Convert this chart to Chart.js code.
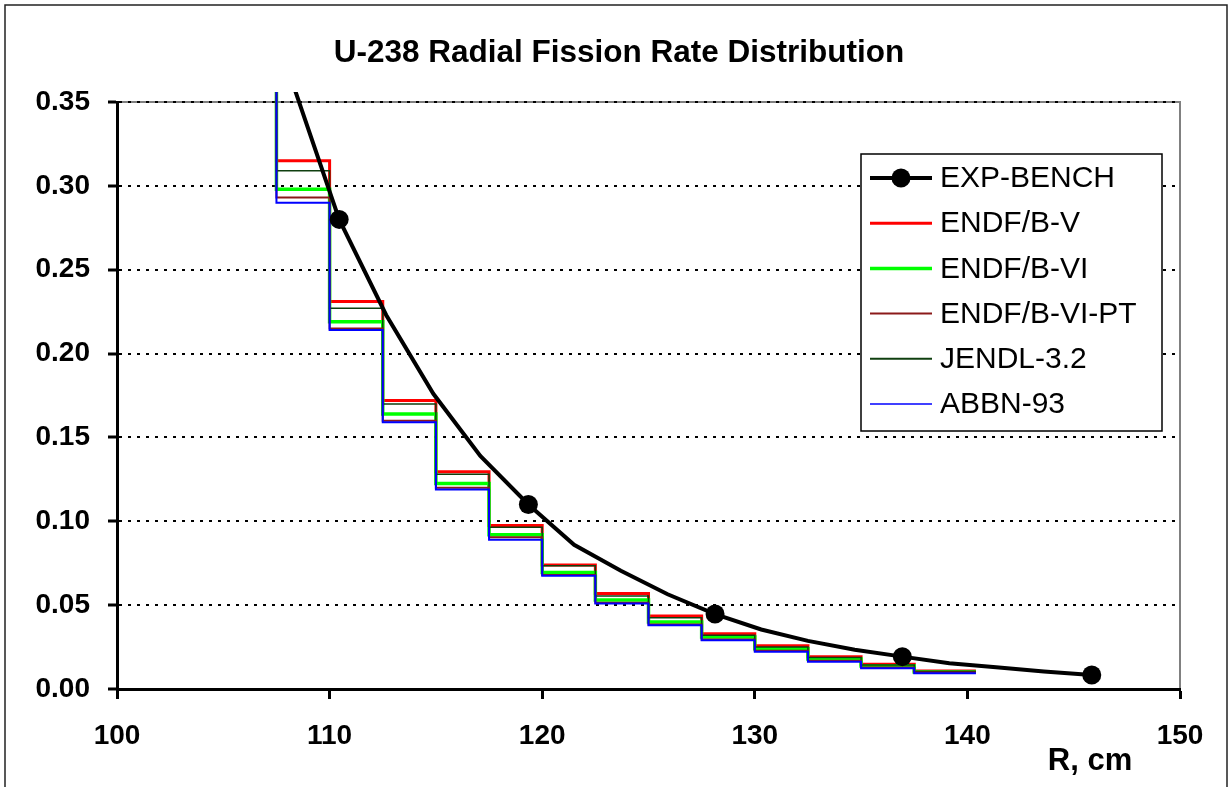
<!DOCTYPE html>
<html>
<head>
<meta charset="utf-8">
<script src="https://cdn.jsdelivr.net/npm/chart.js@4.4.1/dist/chart.umd.min.js"></script>
<style>
  html, body { margin: 0; padding: 0; background: #fff; }
  canvas { display: block; }
</style>
</head>
<body>
<canvas id="fission" width="1229" height="787"></canvas>
<script>
const FONT = '"Liberation Sans", Arial, Helvetica, sans-serif';

// measured benchmark (R in cm, rate)
const expR = [108.24, 110.45, 112.66, 114.88, 117.09, 119.35, 121.5, 123.7, 125.9, 128.13, 130.3, 132.5, 134.7, 136.94, 139.15, 141.35, 143.6, 145.85];
const expRate = [0.362, 0.280, 0.223, 0.176, 0.139, 0.110, 0.086, 0.0705, 0.0565, 0.0447, 0.0355, 0.0287, 0.0234, 0.0193, 0.0154, 0.0130, 0.0105, 0.0083];
const expMarked = [1, 5, 9, 13, 17];

// calculated rates, one value per radial zone between edges
const stepEdges = [105, 107.5, 110, 112.5, 115, 117.5, 120, 122.5, 125, 127.5, 130, 132.5, 135, 137.5, 140.4];
const endfB5   = [0.43, 0.315, 0.231, 0.172, 0.1295, 0.0975, 0.074,  0.057,  0.0435, 0.033,  0.0258, 0.0193, 0.0147, 0.0107];
const endfB6   = [0.41, 0.298, 0.219, 0.164, 0.1225, 0.092,  0.0695, 0.053,  0.040,  0.031,  0.024,  0.0179, 0.0137, 0.0102];
const endfB6pt = [0.40, 0.293, 0.215, 0.160, 0.120,  0.0905, 0.068,  0.0515, 0.0385, 0.0295, 0.0228, 0.0168, 0.0128, 0.0098];
const jendl32  = [0.42, 0.309, 0.227, 0.170, 0.128,  0.0965, 0.0735, 0.0555, 0.0425, 0.032,  0.025,  0.0188, 0.0143, 0.0105];
const abbn93   = [0.40, 0.290, 0.214, 0.159, 0.119,  0.089,  0.0675, 0.051,  0.038,  0.029,  0.0222, 0.0163, 0.0123, 0.0094];

const xTicks = [100, 110, 120, 130, 140, 150];
const yTicks = [0, 0.05, 0.10, 0.15, 0.20, 0.25, 0.30, 0.35];

const chartTitle = 'U-238 Radial Fission Rate Distribution';
const xTitle = 'R, cm';

function stepPoints(vals) {
  return stepEdges.map((x, i) => ({x: x, y: vals[Math.min(i, vals.length - 1)]}));
}

const overTop = {left: 0, top: 10, right: 0, bottom: 0};

// white page, outer frame, grey plot-area border, title texts
const framePlugin = {
  id: 'frame',
  beforeDraw(chart) {
    const ctx = chart.ctx;
    const a = chart.chartArea;
    ctx.save();
    ctx.fillStyle = '#fff';
    ctx.fillRect(0, 0, chart.width, chart.height);
    ctx.strokeStyle = '#222';
    ctx.lineWidth = 1.5;
    ctx.beginPath();
    ctx.moveTo(5, chart.height);
    ctx.lineTo(5, 5);
    ctx.lineTo(1227, 5);
    ctx.lineTo(1227, chart.height);
    ctx.stroke();
    ctx.strokeStyle = '#808080';
    ctx.lineWidth = 2;
    ctx.beginPath();
    ctx.moveTo(a.left, a.top);
    ctx.lineTo(a.right, a.top);
    ctx.lineTo(a.right, a.bottom);
    ctx.stroke();
    ctx.restore();
  },
  afterDraw(chart) {
    const ctx = chart.ctx;
    ctx.save();
    ctx.fillStyle = '#000';
    ctx.textAlign = 'center';
    ctx.textBaseline = 'middle';
    ctx.font = 'bold 31.5px ' + FONT;
    ctx.fillText(chartTitle, 619, 53);
    ctx.font = 'bold 31px ' + FONT;
    ctx.fillText(xTitle, 1090, 761);
    ctx.restore();
  }
};

// legend box inside the plot
const insideLegend = {
  id: 'insideLegend',
  afterDatasetsDraw(chart) {
    const ctx = chart.ctx;
    const l = 861, t = 154, r = 1162, b = 431;
    ctx.save();
    ctx.fillStyle = '#fff';
    ctx.fillRect(l, t, r - l, b - t);
    ctx.strokeStyle = '#000';
    ctx.lineWidth = 1.5;
    ctx.strokeRect(l, t, r - l, b - t);
    ctx.font = '30px ' + FONT;
    ctx.textBaseline = 'middle';
    chart.data.datasets.forEach((ds, i) => {
      const y = 178 + i * 45.2;
      ctx.strokeStyle = ds.borderColor;
      ctx.lineWidth = ds.legendWidth;
      ctx.beginPath();
      ctx.moveTo(870, y);
      ctx.lineTo(932, y);
      ctx.stroke();
      if (i === 0) {
        ctx.fillStyle = '#000';
        ctx.beginPath();
        ctx.arc(901, y, 9.5, 0, Math.PI * 2);
        ctx.fill();
      }
      ctx.fillStyle = '#000';
      ctx.fillText(ds.label, 940, y + 1);
    });
    ctx.restore();
  }
};

const ctx = document.getElementById('fission').getContext('2d');

const fissionChart = new Chart(ctx, {
  type: 'line',
  data: {
    datasets: [
      {
        label: 'EXP-BENCH',
        data: expR.map((x, i) => ({x: x, y: expRate[i]})),
        borderColor: '#000',
        backgroundColor: '#000',
        borderWidth: 4,
        legendWidth: 4,
        pointRadius: expR.map((x, i) => expMarked.includes(i) ? 9.5 : 0),
        pointBorderWidth: 0,
        tension: 0,
        clip: overTop,
        order: 0
      },
      {
        label: 'ENDF/B-V',
        data: stepPoints(endfB5),
        borderColor: '#ff0000',
        borderWidth: 3,
        legendWidth: 3,
        stepped: 'before',
        pointRadius: 0,
        clip: overTop,
        order: 5
      },
      {
        label: 'ENDF/B-VI',
        data: stepPoints(endfB6),
        borderColor: '#00ff00',
        borderWidth: 3.5,
        legendWidth: 3.5,
        stepped: 'before',
        pointRadius: 0,
        clip: overTop,
        order: 4
      },
      {
        label: 'ENDF/B-VI-PT',
        data: stepPoints(endfB6pt),
        borderColor: '#8b1a1a',
        borderWidth: 2,
        legendWidth: 2,
        stepped: 'before',
        pointRadius: 0,
        clip: overTop,
        order: 2
      },
      {
        label: 'JENDL-3.2',
        data: stepPoints(jendl32),
        borderColor: '#0f3f0f',
        borderWidth: 1.5,
        legendWidth: 2,
        stepped: 'before',
        pointRadius: 0,
        clip: overTop,
        order: 3
      },
      {
        label: 'ABBN-93',
        data: stepPoints(abbn93),
        borderColor: '#0000ff',
        borderWidth: 2,
        legendWidth: 1.5,
        stepped: 'before',
        pointRadius: 0,
        clip: overTop,
        order: 1
      }
    ]
  },
  options: {
    responsive: false,
    animation: false,
    layout: {padding: {left: 0, right: 49, top: 102, bottom: 0}},
    scales: {
      x: {
        type: 'linear',
        min: 100,
        max: 150,
        afterBuildTicks: scale => { scale.ticks = xTicks.map(v => ({value: v})); },
        afterFit: scale => { scale.height = 98; },
        ticks: {
          color: '#000',
          padding: 20,
          maxRotation: 0,
          font: {family: FONT, size: 28, weight: 'bold'}
        },
        grid: {
          drawOnChartArea: false,
          drawTicks: true,
          tickLength: 10,
          tickWidth: 3,
          tickColor: '#000'
        },
        border: {color: '#000', width: 3}
      },
      y: {
        min: 0,
        max: 0.35,
        afterBuildTicks: scale => { scale.ticks = yTicks.map(v => ({value: v})); },
        afterFit: scale => { scale.width = 117; },
        ticks: {
          color: '#000',
          padding: 18,
          font: {family: FONT, size: 28, weight: 'bold'},
          callback: value => value.toFixed(2)
        },
        grid: {
          color: '#000',
          lineWidth: 2,
          drawTicks: true,
          tickLength: 9,
          tickWidth: 3,
          tickColor: '#000'
        },
        border: {color: '#000', width: 3, dash: [3, 6]}
      }
    },
    plugins: {
      legend: {display: false},
      tooltip: {enabled: false},
      title: {display: false}
    }
  },
  plugins: [framePlugin, insideLegend]
});
</script>
</body>
</html>
